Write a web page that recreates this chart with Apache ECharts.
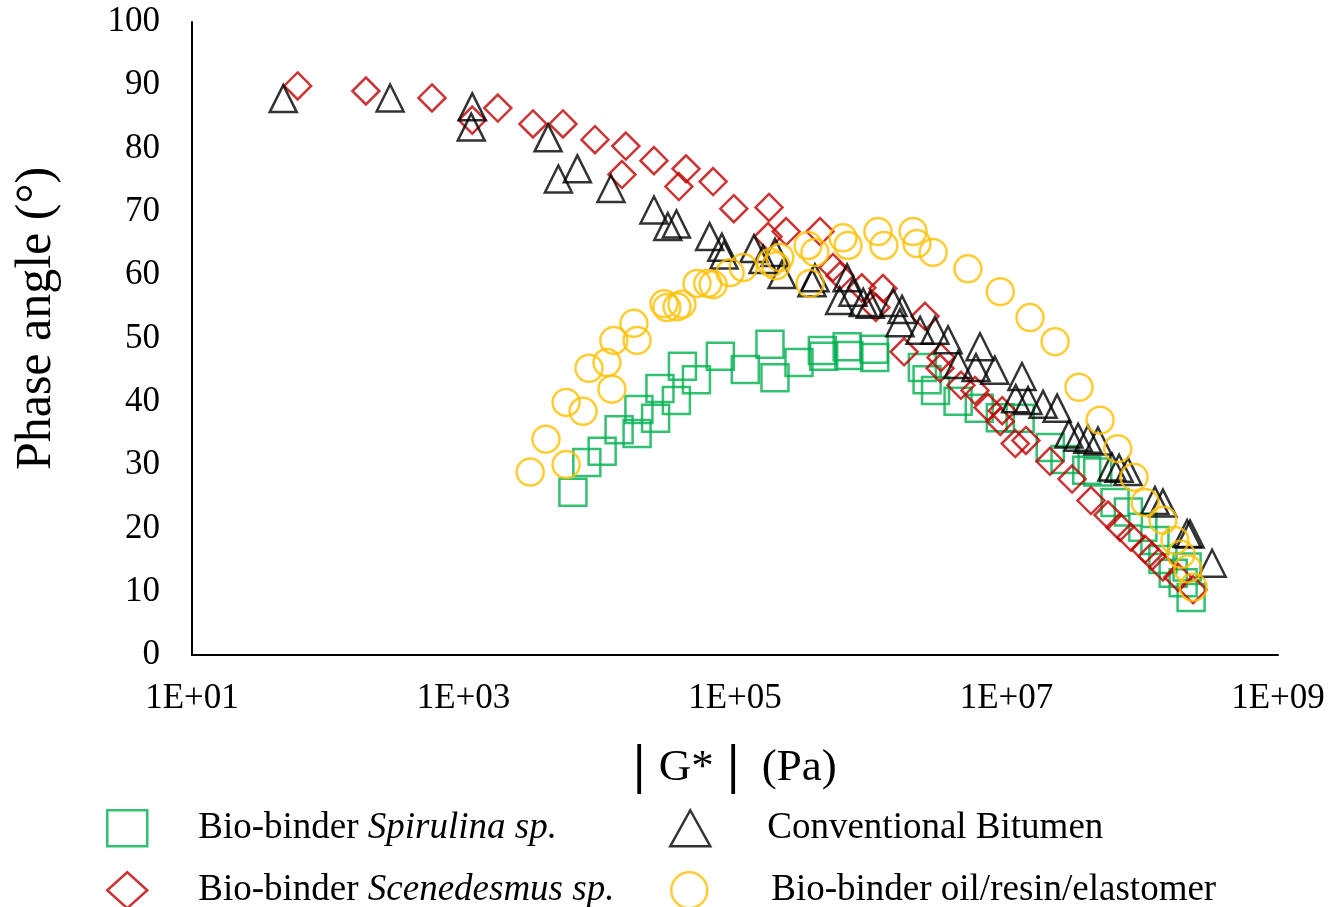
<!DOCTYPE html>
<html>
<head>
<meta charset="utf-8">
<title>Phase angle vs |G*|</title>
<script src="https://cdn.jsdelivr.net/npm/echarts@6.0.0/dist/echarts.min.js"></script>
<style>
  html, body { margin: 0; padding: 0; background: #fff; }
  #main { width: 1332px; height: 907px; }
</style>
</head>
<body>
<div id="main"></div>
<script>
// |G*| (Pa) and phase angle (deg)
var spirulinaG = [6.4e3, 8.1e3, 1.05e4, 1.4e4, 1.9e4, 1.96e4, 2.6e4, 2.8e4, 3.7e4, 4.1e4, 5.2e4, 7.8e4, 1.19e5, 1.81e5, 1.97e5, 2.96e5, 4.4e5, 4.5e5, 6.7e5, 6.9e5, 1.06e6, 1.07e6, 2.4e6, 2.6e6, 3.0e6, 4.4e6, 6.3e6, 9.0e6, 1.26e7, 2.1e7, 2.7e7, 3.9e7, 4.7e7, 6.3e7, 7.9e7, 1.01e8, 1.24e8, 1.42e8, 1.69e8, 2.0e8, 2.14e8, 2.29e8];
var spirulinaPhase = [25.7, 30.4, 32.2, 35.6, 35.0, 38.8, 37.4, 42.1, 40.2, 45.6, 43.5, 47.2, 45.1, 49.1, 43.8, 46.2, 48.1, 47.2, 48.7, 47.3, 48.3, 47.0, 45.4, 43.5, 41.8, 40.1, 39.0, 37.5, 37.4, 32.8, 30.9, 29.2, 28.9, 24.1, 22.6, 20.2, 18.1, 15.1, 12.9, 11.4, 13.9, 9.1];

var scenedesmusG = [60, 191, 586, 1.16e3, 1.79e3, 3.25e3, 5.4e3, 9.3e3, 1.57e4, 1.47e4, 2.53e4, 4.36e4, 3.86e4, 6.9e4, 9.8e4, 1.78e5, 1.75e5, 2.38e5, 4.23e5, 5.27e5, 5.93e5, 8.6e5, 1.23e6, 1.09e6, 2.51e6, 1.76e6, 3.29e6, 3.24e6, 4.62e6, 5.86e6, 7.3e6, 9.3e6, 9.0e6, 1.16e7, 1.39e7, 2.09e7, 3.04e7, 4.19e7, 5.6e7, 6.86e7, 8.26e7, 1.05e8, 1.18e8, 1.42e8, 1.83e8, 2.37e8];
var scenedesmusPhase = [89.9, 89.1, 88.0, 84.5, 86.4, 83.9, 83.9, 81.4, 80.4, 75.9, 78.1, 76.8, 74.0, 74.8, 70.5, 70.7, 66.1, 66.9, 66.9, 61.2, 59.9, 58.0, 57.9, 54.9, 53.5, 47.9, 47.0, 45.3, 42.6, 41.8, 39.1, 38.6, 36.9, 33.4, 33.9, 30.6, 27.8, 24.4, 22.1, 20.2, 18.6, 16.7, 15.6, 13.9, 12.3, 10.3];

var bitumenG = [47, 288, 1.16e3, 1.14e3, 4.2e3, 5.0e3, 6.9e3, 1.22e4, 2.53e4, 3.2e4, 3.7e4, 6.5e4, 8.0e4, 8.3e4, 1.38e5, 1.61e5, 1.97e5, 2.22e5, 3.69e5, 3.88e5, 6.7e5, 7.4e5, 5.9e5, 8.8e5, 9.9e5, 1.46e6, 1.70e6, 1.64e6, 2.31e6, 2.97e6, 3.71e6, 4.4e6, 5.96e6, 6.38e6, 8.2e6, 1.3e7, 1.17e7, 1.44e7, 1.86e7, 2.36e7, 2.88e7, 3.37e7, 3.98e7, 4.72e7, 5.98e7, 6.75e7, 7.85e7, 1.24e8, 1.42e8, 2.14e8, 2.25e8, 3.27e8];
var bitumenPhase = [87.9, 88.0, 86.6, 83.4, 81.7, 75.2, 76.8, 73.7, 70.3, 67.7, 68.1, 66.1, 64.4, 63.2, 64.2, 62.5, 63.6, 60.1, 58.8, 59.6, 59.6, 57.3, 56.0, 55.7, 55.4, 55.7, 54.6, 52.5, 51.3, 51.3, 49.8, 45.9, 45.4, 48.7, 45.0, 44.0, 40.5, 40.2, 39.6, 39.0, 34.9, 34.4, 34.1, 33.8, 29.7, 29.5, 29.0, 24.4, 24.0, 19.2, 19.1, 14.5];

var oilG = [3.1e3, 4.05e3, 5.7e3, 5.7e3, 7.6e3, 8.4e3, 1.14e4, 1.24e4, 1.28e4, 1.8e4, 1.9e4, 3.0e4, 3.15e4, 3.74e4, 4.07e4, 5.25e4, 6.3e4, 6.9e4, 9.2e4, 1.15e5, 1.84e5, 2.14e5, 2.0e5, 3.45e5, 3.57e5, 3.88e5, 6.25e5, 6.8e5, 1.13e6, 1.25e6, 2.05e6, 2.19e6, 2.88e6, 5.2e6, 9.0e6, 1.49e7, 2.28e7, 3.42e7, 4.89e7, 6.6e7, 8.7e7, 1.05e8, 1.42e8, 1.74e8, 1.93e8, 2.17e8, 2.37e8];
var oilPhase = [28.9, 34.1, 30.1, 39.9, 38.5, 45.3, 46.2, 42.0, 49.7, 52.4, 49.7, 55.5, 54.9, 55.0, 55.4, 58.7, 58.7, 58.5, 60.4, 61.2, 62.0, 62.8, 61.5, 64.7, 58.7, 63.6, 65.9, 64.7, 66.9, 64.7, 66.9, 65.0, 63.6, 61.0, 57.4, 53.3, 49.5, 42.3, 37.1, 32.6, 28.1, 24.1, 21.3, 18.1, 15.9, 13.6, 10.7];

var yTicks = { min: 0, max: 100, step: 10 };

var FONT = 'Liberation Serif, Times New Roman, serif';
var colors = {
  spirulina: '#00B050',
  scenedesmus: '#C00000',
  bitumen: '#000000',
  oil: '#FFC000'
};

function pairs(xs, ys) {
  var out = [];
  for (var i = 0; i < xs.length; i++) {
    out.push([xs[i], ys[i]]);
  }
  return out;
}

function scatter(name, symbol, color, xs, ys) {
  return {
    name: name,
    type: 'scatter',
    symbol: symbol,
    symbolSize: 27,
    data: pairs(xs, ys),
    itemStyle: {
      color: 'rgba(255,255,255,0)',
      borderColor: color,
      borderWidth: 2.5
    },
    emphasis: { disabled: true }
  };
}

// one legend box per entry so the 2x2 layout can be placed by hand
function legendEntry(name, icon, color, left, top, gap, label) {
  return {
    left: left,
    top: top,
    itemWidth: 40,
    itemHeight: 36,
    selectedMode: false,
    data: [{
      name: name,
      icon: icon,
      itemStyle: { color: 'rgba(255,255,255,0)', borderColor: color, borderWidth: 2.5 }
    }],
    formatter: function () { return label; },
    textStyle: {
      fontFamily: FONT,
      fontSize: 37,
      color: '#000',
      rich: {
        sp: { width: gap },
        it: { fontFamily: FONT, fontSize: 37, fontStyle: 'italic', color: '#000' }
      }
    }
  };
}

var chart = echarts.init(document.getElementById('main'), null, { renderer: 'canvas' });

var option = {
  animation: false,
  backgroundColor: '#fff',
  grid: { left: 192, right: 54, top: 22, bottom: 252 },
  xAxis: {
    type: 'log',
    logBase: 10,
    min: 10,
    max: 1e9,
    interval: 2,
    name: '{b|| }G*{b| |}  (Pa)',
    nameLocation: 'middle',
    nameGap: 86,
    nameTextStyle: {
      fontFamily: FONT,
      fontSize: 45,
      color: '#000',
      rich: {
        b: { fontFamily: FONT, fontSize: 54, fontWeight: 'bold', color: '#000' }
      }
    },
    axisLine: { lineStyle: { color: '#000', width: 2 } },
    axisTick: { show: false },
    minorTick: { show: false },
    splitLine: { show: false },
    axisLabel: {
      margin: 26,
      fontFamily: FONT,
      fontSize: 35,
      color: '#000',
      formatter: function (v) {
        var e = Math.round(Math.log10(v));
        return '1E+' + (e < 10 ? '0' + e : e);
      }
    }
  },
  yAxis: {
    type: 'value',
    min: yTicks.min,
    max: yTicks.max,
    interval: yTicks.step,
    name: 'Phase angle (°)',
    nameLocation: 'middle',
    nameRotate: 90,
    nameGap: 130,
    nameTextStyle: { fontFamily: FONT, fontSize: 50, color: '#000', padding: [0, 0, 0, 40] },
    axisLine: { show: true, lineStyle: { color: '#000', width: 2 } },
    axisTick: { show: false },
    splitLine: { show: false },
    axisLabel: { margin: 32, fontFamily: FONT, fontSize: 35, color: '#000' }
  },
  legend: [
    legendEntry('Bio-binder Spirulina sp.', 'rect', colors.spirulina, 101, 804, 46,
      '{sp|}Bio-binder {it|Spirulina sp.}'),
    legendEntry('Conventional Bitumen', 'triangle', colors.bitumen, 664, 804, 52,
      '{sp|}Conventional Bitumen'),
    legendEntry('Bio-binder Scenedesmus sp.', 'diamond', colors.scenedesmus, 101, 866, 46,
      '{sp|}Bio-binder {it|Scenedesmus sp.}'),
    legendEntry('Bio-binder oil/resin/elastomer', 'circle', colors.oil, 665, 866, 57,
      '{sp|}Bio-binder oil/resin/elastomer')
  ],
  series: [
    scatter('Bio-binder Spirulina sp.', 'rect', colors.spirulina, spirulinaG, spirulinaPhase),
    scatter('Bio-binder Scenedesmus sp.', 'diamond', colors.scenedesmus, scenedesmusG, scenedesmusPhase),
    scatter('Conventional Bitumen', 'triangle', colors.bitumen, bitumenG, bitumenPhase),
    scatter('Bio-binder oil/resin/elastomer', 'circle', colors.oil, oilG, oilPhase)
  ]
};

chart.setOption(option);
</script>
</body>
</html>
